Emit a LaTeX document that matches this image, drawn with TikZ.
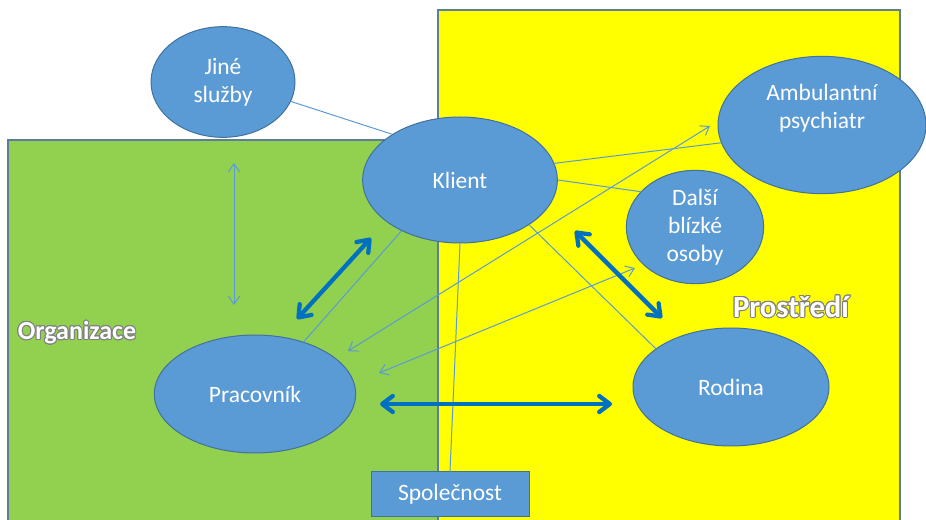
\documentclass[tikz,border=0pt]{standalone}
\usepackage{fontspec}
\setmainfont{Carlito}
\usepackage[copies]{contour}
\usetikzlibrary{arrows.meta,shapes.geometric}
\definecolor{orgfill}{HTML}{92D050}
\definecolor{envfill}{HTML}{FFFF00}
\definecolor{framegray}{HTML}{5E7D9B}
\definecolor{nodefill}{HTML}{5B9BD5}
\definecolor{nodeline}{HTML}{41719C}
\definecolor{strongblue}{HTML}{0070C0}
\contourlength{0.7pt}

\begin{document}
\begin{tikzpicture}[
  x=0.75pt, y=-0.75pt,
  font=\fontsize{17.6}{21}\selectfont,
  zone/.style={draw=framegray, line width=1pt},
  bubble/.style={ellipse, draw=nodeline, fill=nodefill, line width=0.75pt,
                 text=white, align=center, inner sep=0pt},
  box/.style={rectangle, draw=nodeline, fill=nodefill, line width=0.75pt,
              text=white, inner sep=0pt},
  title/.style={text=white, font=\bfseries\fontsize{19.5}{23}\selectfont},
  link/.style={draw=nodefill, line width=0.75pt},
  linkarr/.style={link, {Straight Barb[length=6pt,width=8.5pt]}-{Straight Barb[length=6pt,width=8.5pt]}},
  bigarr/.style={draw=strongblue, line width=3.2pt,
                 {Straight Barb[round,length=8pt,width=12pt]}-{Straight Barb[round,length=8pt,width=12pt]}}
]
  \useasboundingbox (0,0) rectangle (926,520);
  \clip (0,0) rectangle (926,520);
  \draw[zone, fill=orgfill] (8,140) rectangle (438,530);
  \draw[zone, fill=envfill] (438,10) rectangle (900,530);

  \node[title] (org) at (77,333) {\contour{gray}{Organizace}};
  \node[title, font=\bfseries\fontsize{23}{27}\selectfont] (env) at (791,307) {\contour{gray}{Prostředí}};

  \node[bubble, minimum width=108pt, minimum height=83pt] (jine) at (223,82) {Jiné\\služby};
  \node[bubble, minimum width=146pt, minimum height=94.5pt] (klient) at (460,180) {Klient};
  \node[bubble, minimum width=156pt, minimum height=103pt] (psych) at (822,125) {Ambulantní\\psychiatr\\\strut};
  \node[bubble, minimum width=103pt, minimum height=85pt] (osoby) at (695,227) {Další\\blízké\\osoby};
  \node[bubble, minimum width=151pt, minimum height=88.5pt] (prac) at (255,394) {Pracovník};
  \node[bubble, minimum width=147pt, minimum height=88.5pt] (rodina) at (731,387) {Rodina};
  \node[box, minimum width=118.5pt, minimum height=33.75pt] (spol) at (450,494.5) {Společnost};

  \coordinate (js1) at (234,163);
  \coordinate (js2) at (234,305);
  \coordinate (kp1) at (371,238);
  \coordinate (kp2) at (297,319);
  \coordinate (kr1) at (575,231);
  \coordinate (kr2) at (662,318);
  \coordinate (pr1) at (380,404);
  \coordinate (pr2) at (612,404);
  \coordinate (pa1) at (348,351);
  \coordinate (pa2) at (710,126);
  \coordinate (po1) at (379,373);
  \coordinate (po2) at (635,268);

  \draw[link] (jine.-16) -- (klient.146);
  \draw[link] (klient.10) -- (psych.190);
  \draw[link] (klient.0) -- (osoby.147);
  \draw[link] (klient.-33) -- (rodina.153);
  \draw[link] (klient.south) -- (spol.north);
  \draw[link] (prac.47) -- (klient.221);
  \draw[linkarr] (js1) -- (js2);
  \draw[linkarr] (pa1) -- (pa2);
  \draw[linkarr] (po1) -- (po2);
  \draw[bigarr] (kp1) -- (kp2);
  \draw[bigarr] (kr1) -- (kr2);
  \draw[bigarr] (pr1) -- (pr2);
\end{tikzpicture}
\end{document}
